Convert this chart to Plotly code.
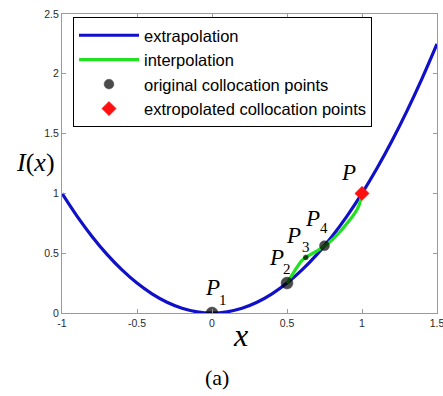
import plotly.graph_objects as go

# ---- data ----
ext_x = [-1.0, -0.9, -0.8, -0.7, -0.6, -0.5, -0.4, -0.3, -0.2, -0.1, 0.0,
         0.1, 0.2, 0.3, 0.4, 0.5, 0.6, 0.7, 0.8, 0.9, 1.0,
         1.1, 1.2, 1.3, 1.4, 1.5]
ext_y = [1.0, 0.81, 0.64, 0.49, 0.36, 0.25, 0.16, 0.09, 0.04, 0.01, 0.0,
         0.01, 0.04, 0.09, 0.16, 0.25, 0.36, 0.49, 0.64, 0.81, 1.0,
         1.21, 1.44, 1.69, 1.96, 2.25]

int_x = [0.5, 0.55, 0.6, 0.625, 0.7, 0.75, 0.8, 0.85, 0.9, 0.95, 0.98, 1.0]
int_y = [0.25, 0.35, 0.44, 0.465, 0.52, 0.56, 0.61, 0.675, 0.75, 0.83, 0.9, 1.0]

orig_x = [0.0, 0.5, 0.625, 0.75]
orig_y = [0.0, 0.25, 0.465, 0.5625]
orig_sizes = [12, 12, 5, 10]

extrap_x = [1.0]
extrap_y = [1.0]

x_ticks = [-1, -0.5, 0, 0.5, 1, 1.5]
x_ticktext = ["-1", "-0.5", "0", "0.5", "1", "1.5"]
y_ticks = [0, 0.5, 1, 1.5, 2, 2.5]
y_ticktext = ["0", "0.5", "1", "1.5", "2", "2.5"]

# point labels: (main, subscript, x, y, sub_x, sub_y)
labels = [
    ("P", "1", 0.0, 0.215, 0.075, 0.105),
    ("P", "2", 0.433, 0.468, 0.503, 0.37),
    ("P", "3", 0.54, 0.652, 0.625, 0.548),
    ("P", "4", 0.667, 0.794, 0.745, 0.708),
    ("P", "", 0.907, 1.171, 0, 0),
]

SERIF = "Liberation Serif, Times New Roman, serif"
SANS = "Liberation Sans, Arial, sans-serif"

fig = go.Figure()
fig.add_trace(go.Scatter(x=ext_x, y=ext_y, mode="lines", name="extrapolation",
                         line=dict(color="#1010c8", width=3.2, shape="spline"),
                         legendgroup="a"))
fig.add_trace(go.Scatter(x=int_x, y=int_y, mode="lines", name="interpolation",
                         line=dict(color="#22e022", width=3.2, shape="spline"),
                         legendgroup="b"))
fig.add_trace(go.Scatter(x=orig_x, y=orig_y, mode="markers",
                         name="original collocation points",
                         marker=dict(color="black", size=orig_sizes, symbol="circle",
                                     line=dict(color="black", width=0.5)),
                         legendgroup="c"))
fig.add_trace(go.Scatter(x=extrap_x, y=extrap_y, mode="markers",
                         name="extropolated collocation points",
                         marker=dict(color="#ff1010", size=11, symbol="diamond",
                                     line=dict(color="#ff1010", width=0.5)),
                         legendgroup="d"))

ann = []
for main, sub, x, y, sx, sy in labels:
    ann.append(dict(x=x, y=y, xref="x", yref="y", text="<i>%s</i>" % main,
                    showarrow=False, xanchor="center", yanchor="middle",
                    font=dict(family=SERIF, size=23, color="black")))
    if sub:
        ann.append(dict(x=sx, y=sy, xref="x", yref="y", text=sub,
                        showarrow=False, xanchor="center", yanchor="middle",
                        font=dict(family=SERIF, size=15, color="black")))

ann.append(dict(x=(35 - 62) / 375, y=(313 - 162) / 299, xref="paper", yref="paper",
                text="<i>I</i>(<i>x</i>)", showarrow=False,
                xanchor="center", yanchor="middle",
                font=dict(family=SERIF, size=26, color="black")))
ann.append(dict(x=(240 - 62) / 375, y=(313 - 335) / 299, xref="paper", yref="paper",
                text="<i>x</i>", showarrow=False,
                xanchor="center", yanchor="middle",
                font=dict(family=SERIF, size=32, color="black")))
ann.append(dict(x=(217 - 62) / 375, y=(313 - 377) / 299, xref="paper", yref="paper",
                text="(a)", showarrow=False,
                xanchor="center", yanchor="middle",
                font=dict(family=SERIF, size=22, color="black")))

axis_common = dict(showline=True, linecolor="#9a9a9a", linewidth=1, mirror="ticks",
                   ticks="inside", ticklen=4, tickcolor="#9a9a9a", showgrid=False,
                   zeroline=False, ticklabeloverflow="allow", automargin=False,
                   tickfont=dict(family=SANS, size=10.5, color="#2a2a2a"))

fig.update_layout(
    width=443, height=396,
    margin=dict(l=62, r=6, t=14, b=83),
    paper_bgcolor="white", plot_bgcolor="white",
    xaxis=dict(range=[-1, 1.5], tickvals=x_ticks, ticktext=x_ticktext, **axis_common),
    yaxis=dict(range=[0, 2.5], tickvals=y_ticks, ticktext=y_ticktext, **axis_common),
    legend=dict(x=(73 - 62) / 375, y=(313 - 17) / 299, xanchor="left", yanchor="top",
                bgcolor="white", bordercolor="black", borderwidth=1,
                font=dict(family=SANS, size=16.5, color="black"),
                traceorder="grouped", tracegroupgap=0, itemwidth=60),
    annotations=ann,
    showlegend=True,
)

fig.write_html("out.html")
